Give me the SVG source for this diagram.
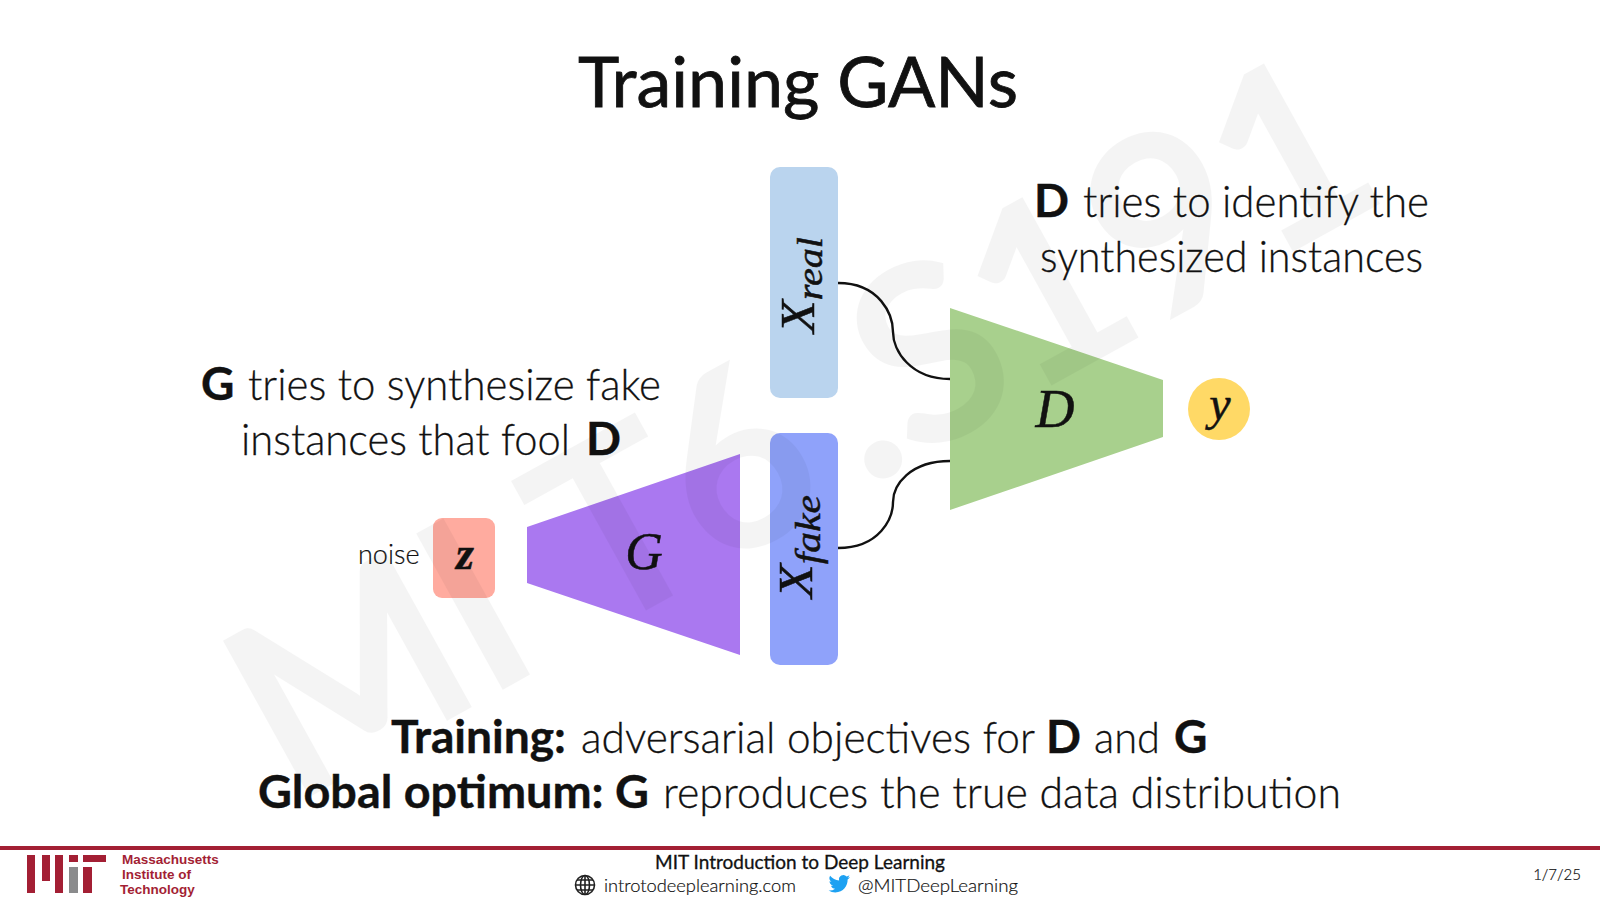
<svg xmlns="http://www.w3.org/2000/svg" width="1600" height="900" viewBox="0 0 1600 900">
<style>
text{font-family:"Lato","Noto Sans",sans-serif;fill:#111}
.h{font-size:43px;font-weight:300;stroke:#111;stroke-width:.3}
.b{font-weight:700;font-size:46px;stroke-width:.4}
.m{font-family:"Liberation Serif","DejaVu Serif",serif;font-style:italic;fill:#111;stroke:#111;stroke-width:.5}
.c{fill:none;stroke:#111;stroke-width:2.4}
.mit{font-family:"Liberation Sans",Arial,sans-serif;font-weight:700;font-size:13.5px;fill:#a31f34}
.f{font-size:18px;font-weight:300;stroke:#111;stroke-width:.2}
.r{fill:#a31f34}
</style>
<rect width="1600" height="900" fill="#fff"/>
<text id="title" x="578" y="107" font-size="70" font-weight="400" stroke="#111" stroke-width=".8" textLength="440" lengthAdjust="spacingAndGlyphs">Training GANs</text>
<g id="connectors">
<path class="c" d="M838 283C880 283 893 315 893 332C893 350 910 379 950 379"/>
<path class="c" d="M838 548C880 548 893 518 893 502C893 485 910 461 950 461"/>
</g>
<g id="x-real"><rect x="770" y="167" width="68" height="231" rx="10" fill="#bad4ee"/>
<text class="m" transform="translate(814 333) rotate(-90)" font-size="48" textLength="96" lengthAdjust="spacingAndGlyphs">X<tspan font-size="36" dy="8">real</tspan></text></g>
<g id="x-fake"><rect x="770" y="433" width="68" height="232" rx="10" fill="#8fa2fa"/>
<text class="m" transform="translate(812 598) rotate(-90)" font-size="48" textLength="103" lengthAdjust="spacingAndGlyphs">X<tspan font-size="36" dy="8">fake</tspan></text></g>
<g id="discriminator"><polygon points="950,308 1163,380 1163,437 950,510" fill="#a8d08d"/>
<text class="m" x="1055" y="427" font-size="54" text-anchor="middle">D</text></g>
<g id="output"><circle cx="1219" cy="409" r="31" fill="#ffd966"/>
<text class="m" x="1220" y="420" font-size="48" text-anchor="middle">y</text></g>
<g id="generator"><polygon points="527,527 740,454 740,655 527,583" fill="#aa78f0"/>
<text class="m" x="644" y="569" font-size="52" text-anchor="middle">G</text></g>
<g id="noise"><rect x="433" y="518" width="62" height="80" rx="9" fill="#ffab9f"/>
<text class="m" x="465" y="569" font-size="46" font-weight="700" text-anchor="middle">z</text>
<text x="358" y="564" font-size="27" font-weight="300" stroke="#111" stroke-width=".2">noise</text></g>
<g id="labels">
<text class="h" y="217"><tspan class="b" x="1034">D</tspan> <tspan x="1083" textLength="346" lengthAdjust="spacingAndGlyphs">tries to identify the</tspan></text>
<text class="h" x="1040" y="272" textLength="383" lengthAdjust="spacingAndGlyphs">synthesized instances</text>
<text class="h" y="400"><tspan class="b" x="201">G</tspan> <tspan x="248" textLength="413" lengthAdjust="spacingAndGlyphs">tries to synthesize fake</tspan></text>
<text class="h" y="455"><tspan x="241" textLength="329" lengthAdjust="spacingAndGlyphs">instances that fool</tspan> <tspan class="b" x="586">D</tspan></text>
<text class="h" y="753"><tspan class="b" x="391" textLength="175" lengthAdjust="spacingAndGlyphs">Training:</tspan> <tspan x="581" textLength="453" lengthAdjust="spacingAndGlyphs">adversarial objectives for</tspan> <tspan class="b" x="1046">D</tspan> <tspan x="1094" textLength="66" lengthAdjust="spacingAndGlyphs">and</tspan> <tspan class="b" x="1174">G</tspan></text>
<text class="h" y="808"><tspan class="b" x="258" textLength="391" lengthAdjust="spacingAndGlyphs">Global optimum: G</tspan> <tspan x="663" textLength="678" lengthAdjust="spacingAndGlyphs">reproduces the true data distribution</tspan></text>
</g>
<text id="watermark" transform="translate(292 802) rotate(-29)" font-size="238" font-weight="400" style="fill:#000;stroke:#000;stroke-width:8" opacity=".04">MI<tspan dx="60">T</tspan><tspan dx="-60"> 6</tspan><tspan dx="35">.S191</tspan></text>
<g id="footer">
<rect y="846" width="1600" height="4" fill="#a31f34"/>
<rect class="r" x="27" y="855" width="8" height="38"/><rect class="r" x="42" y="855" width="8" height="26"/><rect class="r" x="55" y="855" width="8" height="38"/><rect class="r" x="69" y="855" width="9" height="7"/><rect x="69" y="867" width="9" height="26" fill="#8a8b8c"/><rect class="r" x="83" y="855" width="23" height="7"/><rect class="r" x="83" y="867" width="9" height="26"/>
<text class="mit" x="122" y="864">Massachusetts</text>
<text class="mit" x="122" y="879">Institute of</text>
<text class="mit" x="120" y="894">Technology</text>
<text x="800" y="869" text-anchor="middle" font-size="19" font-weight="400" stroke="#111" stroke-width=".3">MIT Introduction to Deep Learning</text>
<g fill="none" stroke="#222" stroke-width="1.6"><circle cx="585" cy="885" r="9.5"/><ellipse cx="585" cy="885" rx="4.5" ry="9.5"/><path d="M575.500 885H594.500M577 880H593M577 890H593M585 875.500V894.500"/></g>
<text class="f" x="604" y="892" textLength="192" lengthAdjust="spacingAndGlyphs">introtodeeplearning.com</text>
<path fill="#1da1f2" d="M850 877c-.8.4-1.600.6-2.500.7.900-.5 1.600-1.400 1.900-2.400-.8.500-1.800.9-2.800 1.100a4.400 4.400 0 0 0-7.500 4c-3.600-.2-6.900-1.900-9-4.600a4.400 4.400 0 0 0 1.400 5.900c-.7 0-1.400-.2-2-.5 0 2.100 1.500 3.900 3.500 4.400-.7.200-1.300.2-2 .1.600 1.700 2.200 3 4.100 3a9 9 0 0 1-6.500 1.800c2 1.300 4.300 2 6.700 2 8 0 12.600-6.800 12.300-12.900.9-.6 1.700-1.400 2.400-2.600z"/>
<text class="f" x="858" y="892" textLength="160" lengthAdjust="spacingAndGlyphs">@MITDeepLearning</text>
<text x="1581" y="880" text-anchor="end" font-size="15" font-weight="300" stroke="#111" stroke-width=".2">1/7/25</text>
</g>
</svg>
